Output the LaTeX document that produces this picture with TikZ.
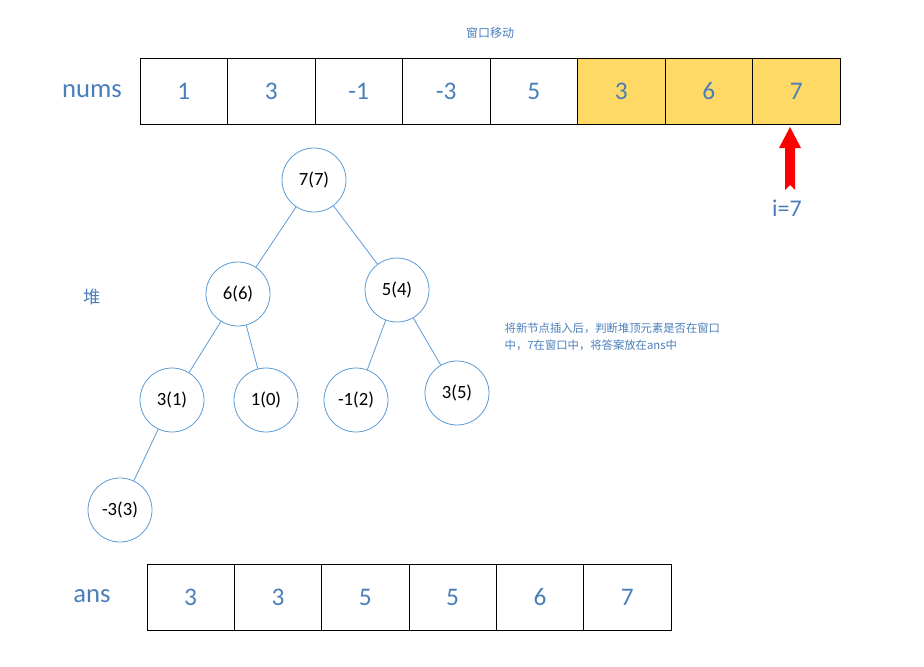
\documentclass[tikz,border=0pt]{standalone}
\usepackage{fontspec}
\setmainfont{Carlito}
\newfontfamily\cjk{Noto Sans CJK SC}
\definecolor{txtblue}{HTML}{4A7EBB}
\definecolor{edgeblue}{HTML}{5B9BD5}
\definecolor{cellyellow}{HTML}{FFD966}
\tikzset{
  cell/.style={draw=black, line width=0.6pt, minimum width=87.5*0.75pt, minimum height=66*0.75pt, inner sep=0pt, text=txtblue, font=\fontsize{19}{22}\selectfont},
  hcell/.style={cell, fill=cellyellow},
  hnode/.style={circle, draw=edgeblue, line width=0.6pt, fill=white, minimum size=64*0.75pt, inner sep=0pt, font=\fontsize{14}{16}\selectfont},
  lbl/.style={text=txtblue, font=\fontsize{20}{23}\selectfont},
  cjklbl/.style={text=txtblue, font=\cjk\fontsize{8.5}{13}\selectfont, align=left},
  tedge/.style={draw=edgeblue, line width=0.6pt}
}
\begin{document}
\begin{tikzpicture}[x=0.75pt,y=-0.75pt]
\useasboundingbox (0,0) rectangle (924,667);
% nums
\node[lbl] (numslbl) at (92,91) {nums};
\foreach \v [count=\i] in {1,3,-1,-3,5} {
  \node[cell] (n\i) at ({140+87.5*(\i-0.5)},91) {\v};
}
\foreach \v [count=\i from 6] in {3,6,7} {
  \node[hcell] (n\i) at ({140+87.5*(\i-0.5)},91) {\v};
}
\node[cjklbl, font=\cjk\fontsize{9}{11}\selectfont] (move) at (490,33) {窗口移动};
% arrow
\coordinate (tip) at (790,127);
\fill[red] (tip) -- (801,148) -- (795,148) -- (795,190) -- (790,185) -- (785,190) -- (785,148) -- (779,148) -- cycle;
\node[lbl, font=\fontsize{18}{21}\selectfont] (ilbl) at (787,208) {i=7};
% heap
\node[text=txtblue, font=\cjk\fontsize{13}{15}\selectfont] (heaplbl) at (92,297) {堆};
\node[hnode] (a) at (314,180) {7(7)};
\node[hnode] (b) at (238,294) {6(6)};
\node[hnode] (c) at (397,290) {5(4)};
\node[hnode] (d) at (172,400) {3(1)};
\node[hnode] (e) at (266,400) {1(0)};
\node[hnode] (f) at (356,400) {-1(2)};
\node[hnode] (g) at (457,393) {3(5)};
\node[hnode] (h) at (120,510) {-3(3)};
\draw[tedge] (a)--(b); \draw[tedge] (a)--(c);
\draw[tedge] (b)--(d); \draw[tedge] (b)--(e);
\draw[tedge] (c)--(f); \draw[tedge] (c)--(g);
\draw[tedge] (d)--(h);
\node[cjklbl, anchor=north west] (note) at (500,318) {将新节点插入后，判断堆顶元素是否在窗口\\中，7在窗口中，将答案放在ans中};
% ans
\node[lbl] (anslbl) at (92,596) {ans};
\foreach \v [count=\i] in {3,3,5,5,6,7} {
  \node[cell, minimum width=87.33*0.75pt] (s\i) at ({147+87.33*(\i-0.5)},597) {\v};
}
\end{tikzpicture}
\end{document}
